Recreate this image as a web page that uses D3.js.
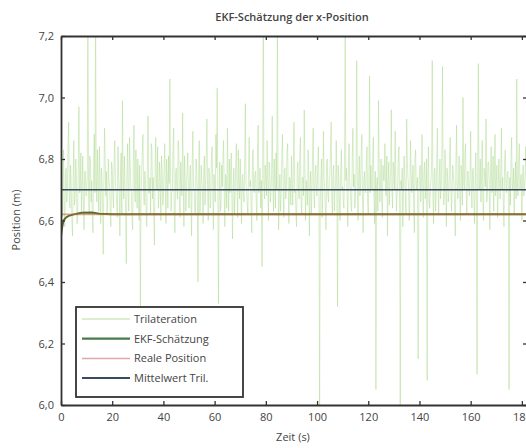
<!DOCTYPE html>
<html><head><meta charset="utf-8">
<script src="https://cdn.jsdelivr.net/npm/d3@7"></script>
<style>body{margin:0;background:#fff}svg{display:block}text{font-family:"Open Sans",sans-serif}</style>
</head><body><svg id="c" width="526" height="448"></svg>
<script>
const title = "EKF-Schätzung der x-Position";
const xLabel = "Zeit (s)";
const yLabel = "Position (m)";
const xTicks = [0,20,40,60,80,100,120,140,160,180];
const yTicks = [6.0,6.2,6.4,6.6,6.8,7.0,7.2];
const legendLabels = ["Trilateration","EKF-Schätzung","Reale Position","Mittelwert Tril."];
const triStep = 0.25;
const triValues = [
6.72,6.79,6.61,6.7,6.83,6.62,6.58,6.75,6.77,6.66,6.69,6.84,6.92,6.68,6.64,6.78,6.71,6.6,6.55,6.73,6.86,6.65,6.67,6.8,6.74,6.59,6.6,6.77,6.97,6.69,6.7,6.82,6.63,6.71,6.81,6.64,6.57,6.76,6.76,6.68,
6.68,6.74,7.35,6.7,6.62,6.81,6.79,6.66,6.73,6.6,6.56,6.78,6.88,6.69,7.28,6.74,6.66,6.83,6.71,6.63,6.84,6.71,6.59,6.77,6.75,6.64,6.49,6.72,6.9,6.8,6.68,6.76,6.62,6.67,6.8,6.73,6.71,6.61,6.58,6.79,
6.77,6.69,6.64,6.8,6.86,6.72,6.7,6.65,6.61,6.84,6.74,6.7,6.55,6.76,6.82,6.62,6.99,6.74,6.67,6.81,6.72,6.63,6.46,6.75,6.85,6.68,6.63,6.87,6.78,6.71,6.69,6.6,6.57,6.79,6.91,6.7,6.66,6.83,6.73,6.64,
6.8,6.71,6.6,6.78,6.32,6.66,6.75,6.82,6.88,6.7,6.65,6.76,6.71,6.63,6.58,6.8,6.94,6.69,6.69,6.74,6.62,6.85,6.83,6.67,6.74,6.61,6.52,6.77,6.87,6.72,6.7,6.84,6.64,6.68,6.79,6.73,6.6,6.81,6.76,6.65,
6.68,6.76,6.85,6.7,6.59,6.8,6.73,6.64,6.81,6.72,7.06,6.77,6.63,6.69,6.7,6.83,6.9,6.62,6.56,6.75,6.77,6.7,6.67,6.86,6.84,6.66,6.61,6.79,6.72,6.68,6.95,6.73,6.58,6.81,6.74,6.63,6.69,6.77,6.82,6.7,
6.64,6.73,6.78,6.67,6.55,6.79,6.89,6.71,6.7,6.63,6.62,6.8,6.76,6.68,6.4,6.74,6.86,6.62,6.68,6.78,6.73,6.69,6.59,6.76,6.81,6.65,6.71,6.82,6.93,6.7,6.6,6.77,6.75,6.64,6.66,6.81,6.84,6.72,6.57,6.75,
6.72,6.66,6.88,6.77,7.03,6.7,6.33,6.68,6.79,6.63,6.65,6.78,6.71,6.81,6.86,6.69,6.58,6.75,6.74,6.64,6.9,6.72,6.63,6.8,6.69,6.76,6.82,6.66,6.54,6.71,6.77,6.62,6.68,6.79,6.85,6.7,6.61,6.83,6.73,6.67,
6.8,6.7,6.59,6.74,6.75,6.68,6.66,6.8,6.98,6.72,6.7,6.65,6.62,6.77,6.87,6.71,6.73,6.64,6.56,6.79,6.83,6.7,6.69,6.75,6.76,6.66,6.6,6.82,6.91,6.69,6.71,6.77,6.64,6.73,6.45,6.68,7.38,6.72,6.67,6.78,
6.74,6.68,6.86,6.73,6.6,6.79,6.78,6.66,6.69,6.75,6.94,6.71,6.63,6.8,6.72,6.64,6.82,6.7,7.25,6.77,6.57,6.69,6.75,6.63,6.68,6.81,6.88,6.72,6.61,6.76,6.77,6.67,6.7,6.82,6.85,6.7,6.59,6.74,6.73,6.65,
6.81,6.72,6.65,6.78,6.92,6.69,6.7,6.63,6.58,6.76,6.79,6.7,6.67,6.8,6.87,6.66,6.62,6.74,6.74,6.68,6.96,6.79,6.6,6.73,6.71,6.65,6.83,6.77,6.55,6.71,6.76,6.62,6.69,6.81,6.9,6.7,6.64,6.75,6.78,6.69,
6.68,6.77,6.84,6.71,5.98,6.66,6.73,6.8,6.61,6.7,6.89,6.74,6.7,6.64,6.57,6.79,6.8,6.68,6.66,6.73,6.75,6.82,6.92,6.67,6.62,6.76,6.78,6.63,6.69,6.72,6.86,6.69,6.32,6.78,6.74,6.65,6.6,6.75,6.83,6.7,
6.71,6.66,6.64,6.79,7.22,6.73,6.77,6.69,6.58,6.78,6.85,6.72,6.7,6.65,6.63,6.8,6.9,6.71,6.75,6.64,6.67,6.77,7.12,6.7,6.6,6.74,6.81,6.68,6.72,6.82,6.88,6.67,6.56,6.73,6.76,6.7,6.69,6.79,6.84,6.66,
6.62,6.74,7.07,6.69,6.78,6.72,6.7,6.8,6.87,6.67,6.59,6.76,6.05,6.71,6.74,6.63,6.99,6.77,6.66,6.7,6.8,6.66,6.61,6.78,6.73,6.73,6.85,6.69,6.68,6.81,6.55,6.72,6.79,6.65,6.71,6.76,6.96,6.7,6.64,6.79,
6.77,6.7,6.89,6.75,6.63,6.68,6.72,6.81,6.84,6.64,5.98,6.73,6.7,6.77,6.58,6.69,6.81,6.74,6.67,6.62,6.93,6.79,6.74,6.71,6.6,6.66,6.86,6.76,6.69,6.72,6.78,6.65,6.56,6.8,6.83,6.7,6.71,6.74,6.15,6.68,
6.75,6.78,6.66,6.72,6.88,6.69,6.61,6.76,6.79,6.67,6.7,6.8,6.08,6.73,6.84,6.66,6.64,6.71,6.73,6.78,7.12,6.68,6.59,6.75,6.77,6.63,6.68,6.79,6.9,6.7,6.62,6.74,6.8,6.67,6.71,6.81,7.1,6.72,6.65,6.69,
6.83,6.71,6.58,6.77,6.74,6.66,6.69,6.8,6.87,6.72,6.63,6.69,6.78,6.75,6.72,6.64,6.55,6.79,6.91,6.7,6.67,6.74,6.81,6.68,6.6,6.78,6.75,6.65,7.0,6.73,6.7,6.82,6.85,6.69,6.62,6.76,6.76,6.71,6.68,6.74,
6.89,6.7,6.64,6.76,6.77,6.68,6.59,6.73,6.82,6.65,6.1,6.78,7.11,6.7,6.71,6.8,6.66,6.74,6.86,6.67,6.6,6.77,6.74,6.71,6.93,6.66,6.68,6.79,6.79,6.72,6.57,6.75,6.84,6.69,6.7,6.81,6.63,6.73,6.88,6.68,
6.72,6.78,6.61,6.69,6.8,6.73,6.67,6.76,6.9,6.7,6.74,6.66,6.58,6.79,6.83,6.72,6.69,6.75,6.76,6.68,6.05,6.74,6.65,6.8,6.87,6.7,6.71,6.77,6.62,6.73,6.79,6.67,7.06,6.71,6.68,6.79,6.85,6.7,6.73,6.75,
6.6,6.72,6.78,6.68,6.7,6.75,6.84,6.7,6.66
];
const ekfTimes = [0,0.5,1,1.5,2,3,5,8,12,15,20,182];
const ekfValues = [6.55,6.58,6.6,6.605,6.61,6.615,6.62,6.625,6.626,6.622,6.62,6.62];
const realTimes = [0,182];
const realValues = [6.62,6.62];
const meanValue = 6.70;

const svg = d3.select("#c");
const L=61, R=527, T=36, B=405;
const x = d3.scaleLinear().domain([0,182]).range([L,R]);
const y = d3.scaleLinear().domain([6.0,7.2]).range([B,T]);
svg.append("defs").append("clipPath").attr("id","cp").append("rect")
  .attr("x",L).attr("y",T).attr("width",R-L).attr("height",B-T);
const g = svg.append("g").attr("clip-path","url(#cp)");
const line = d3.line().x(d=>x(d[0])).y(d=>y(d[1]));
const tri = triValues.map((v,i)=>[i*triStep,v]);
g.append("path").attr("d",line(tri)).attr("fill","none").attr("stroke","#a8d888").attr("stroke-opacity",0.7).attr("stroke-width",0.65);
g.append("path").attr("d",line([[0,meanValue],[182,meanValue]])).attr("fill","none").attr("stroke","#3b4a60").attr("stroke-width",1.6);
g.append("path").attr("d",line(ekfTimes.map((t,i)=>[t,ekfValues[i]]))).attr("fill","none").attr("stroke","#5a6a2e").attr("stroke-width",2);
g.append("path").attr("d",line(realTimes.map((t,i)=>[t,realValues[i]]))).attr("fill","none").attr("stroke","#b8703a").attr("stroke-opacity",0.6).attr("stroke-width",1.6);

const fmt = d=>d3.format(".1f")(d).replace(".",",");
const axColor="#333";
const ax = svg.append("g").attr("class","axes");
ax.append("g").attr("transform",`translate(0,${B})`).call(d3.axisBottom(x).tickValues(xTicks).tickSizeInner(-4).tickSizeOuter(0).tickPadding(8));
ax.append("g").attr("transform",`translate(0,${T})`).call(d3.axisTop(x).tickValues(xTicks).tickSizeInner(-4).tickSizeOuter(0).tickFormat(""));
ax.append("g").attr("transform",`translate(${L},0)`).call(d3.axisLeft(y).tickValues(yTicks).tickFormat(fmt).tickSizeInner(-4).tickSizeOuter(0).tickPadding(7));
ax.append("g").attr("transform",`translate(${R},0)`).call(d3.axisRight(y).tickValues(yTicks).tickSizeInner(-4).tickSizeOuter(0).tickFormat(""));
ax.selectAll(".domain").attr("stroke",axColor).attr("stroke-width",1.8);
ax.selectAll(".tick line").attr("stroke",axColor).attr("stroke-width",1.3);
ax.selectAll(".tick text").attr("fill","#444").attr("font-size",11).attr("font-family","'Open Sans',sans-serif");

svg.append("text").attr("x",292).attr("y",21).attr("text-anchor","middle").attr("font-size",11).attr("font-weight",600).attr("fill","#444").text(title);
svg.append("text").attr("x",293).attr("y",441).attr("text-anchor","middle").attr("font-size",11).attr("fill","#444").text(xLabel);
svg.append("text").attr("transform","translate(20,220) rotate(-90)").attr("text-anchor","middle").attr("font-size",11).attr("fill","#444").text(yLabel);

const lg = svg.append("g");
lg.append("rect").attr("x",76).attr("y",307).attr("width",167).attr("height",90).attr("fill","#fff").attr("stroke",axColor).attr("stroke-width",1.8);
const lgColors = ["#cfe8c0","#4a7a48","#e0a8a8","#3b4a60"];
const lgWidths = [1.5,2.2,1.5,2];
legendLabels.forEach((lab,i)=>{
  const yy = 319 + i*19.7;
  lg.append("line").attr("x1",82).attr("x2",130).attr("y1",yy).attr("y2",yy).attr("stroke",lgColors[i]).attr("stroke-width",lgWidths[i]);
  lg.append("text").attr("x",134).attr("y",yy+4).attr("font-size",11).attr("fill","#444").text(lab);
});
</script></body></html>
